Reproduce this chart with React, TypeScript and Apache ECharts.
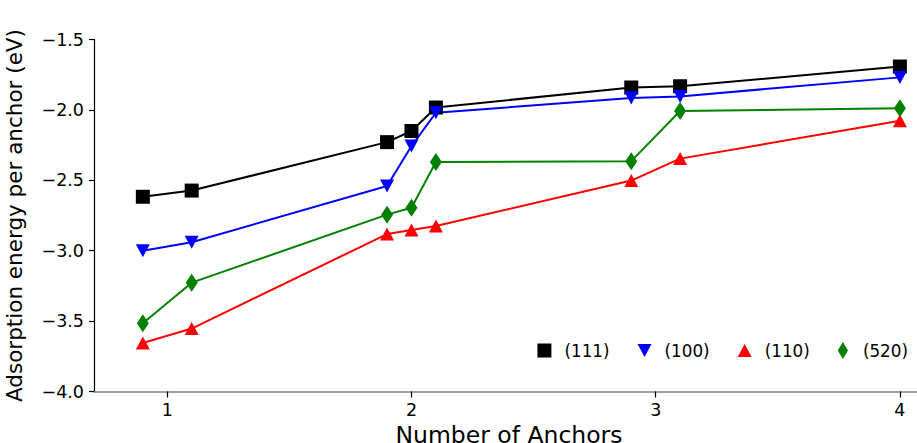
import React, { useEffect, useRef } from "react";
import * as echarts from "echarts";

// Number of anchors on each surface
const anchors = [0.9, 1.1, 1.9, 2.0, 2.1, 2.9, 3.1, 4.0];

// Adsorption energy per anchor (eV) for each surface facet
const e111 = [-2.617, -2.573, -2.229, -2.15, -1.983, -1.841, -1.832, -1.692];
const e100 = [-3.0, -2.94, -2.54, -2.257, -2.02, -1.916, -1.904, -1.769];
const e110 = [-3.656, -3.553, -2.882, -2.853, -2.825, -2.502, -2.346, -2.077];
const e520 = [-3.516, -3.227, -2.744, -2.695, -2.37, -2.364, -2.008, -1.989];

const seriesNames = ["(111)", "(100)", "(110)", "(520)"];
const xTicks = [1, 2, 3, 4];

const FONT = "DejaVu Sans";

const pair = (ys: number[]) => anchors.map((x, i) => [x, ys[i]]);

const App: React.FC = () => {
  const ref = useRef<HTMLDivElement>(null);

  useEffect(() => {
    document.body.style.margin = "0";
    if (!ref.current) return;
    const chart = echarts.init(ref.current, undefined, { renderer: "svg" });

    const icons = {
      square: "path://M0,0L10,0L10,10L0,10Z",
      down: "path://M0,0L10,0L5,9.3Z",
      up: "path://M5,0L10,9.3L0,9.3Z",
      diamond: "path://M3,0L6,5L3,10L0,5Z",
    };

    const line = (
      name: string,
      ys: number[],
      color: string,
      symbol: string,
      size: number | number[],
      rotate = 0
    ) => ({
      name,
      type: "line",
      data: pair(ys),
      symbol,
      symbolSize: size,
      symbolRotate: rotate,
      showAllSymbol: true,
      lineStyle: { color, width: 2 },
      itemStyle: { color, borderWidth: 0 },
      z: 3,
    });

    chart.setOption({
      animation: false,
      backgroundColor: "#ffffff",
      grid: {
        left: 94,
        right: 0,
        top: 39.5,
        bottom: 51.5,
        containLabel: false,
        outerBoundsMode: "none",
      },
      legend: {
        right: 9,
        top: 342,
        padding: 0,
        orient: "horizontal",
        itemWidth: 14,
        itemHeight: 17,
        itemGap: 28,
        textStyle: {
          fontFamily: FONT,
          fontSize: 16.8,
          color: "#000",
          padding: [0, 0, 0, 8],
        },
        data: [
          { name: seriesNames[0], icon: icons.square },
          { name: seriesNames[1], icon: icons.down },
          { name: seriesNames[2], icon: icons.up },
          { name: seriesNames[3], icon: icons.diamond },
        ],
      },
      xAxis: {
        type: "value",
        min: 0.7,
        max: 4.07,
        name: "Number of Anchors",
        nameLocation: "middle",
        nameGap: 22,
        nameTextStyle: {
          fontFamily: FONT,
          fontSize: 23.5,
          color: "#000",
          padding: [0, 0, 0, 7],
        },
        axisLine: { show: true, onZero: false, lineStyle: { color: "#808080", width: 1.5 } },
        axisTick: {
          show: true,
          inside: false,
          length: 6,
          lineStyle: { color: "#000", width: 1.2 },
          customValues: xTicks,
        },
        axisLabel: {
          fontFamily: FONT,
          fontSize: 17.5,
          color: "#000",
          margin: 9,
          customValues: xTicks,
          formatter: (v: number) => String(v),
        },
        splitLine: { show: false },
      },
      yAxis: {
        type: "value",
        min: -4.0,
        max: -1.5,
        interval: 0.5,
        name: "Adsorption energy per anchor (eV)",
        nameLocation: "middle",
        nameGap: 69,
        nameTextStyle: { fontFamily: FONT, fontSize: 21.5, color: "#000" },
        axisLine: { show: true, onZero: false, lineStyle: { color: "#000", width: 1.2 } },
        axisTick: { show: true, inside: false, length: 5, lineStyle: { color: "#000", width: 1.2 } },
        axisLabel: {
          fontFamily: FONT,
          fontSize: 17.5,
          color: "#000",
          margin: 10,
          formatter: (v: number) => v.toFixed(1).replace("-", "\u2212"),
        },
        splitLine: { show: false },
      },
      series: [
        line(seriesNames[0], e111, "#000000", "rect", 14),
        line(seriesNames[1], e100, "#0000ff", "triangle", [14, 13], 180),
        line(seriesNames[2], e110, "#ff0000", "triangle", [14, 13]),
        line(seriesNames[3], e520, "#008000", "diamond", [12, 18]),
      ],
    });

    return () => chart.dispose();
  }, []);

  return <div ref={ref} style={{ width: 917, height: 443 }} />;
};

export default App;
